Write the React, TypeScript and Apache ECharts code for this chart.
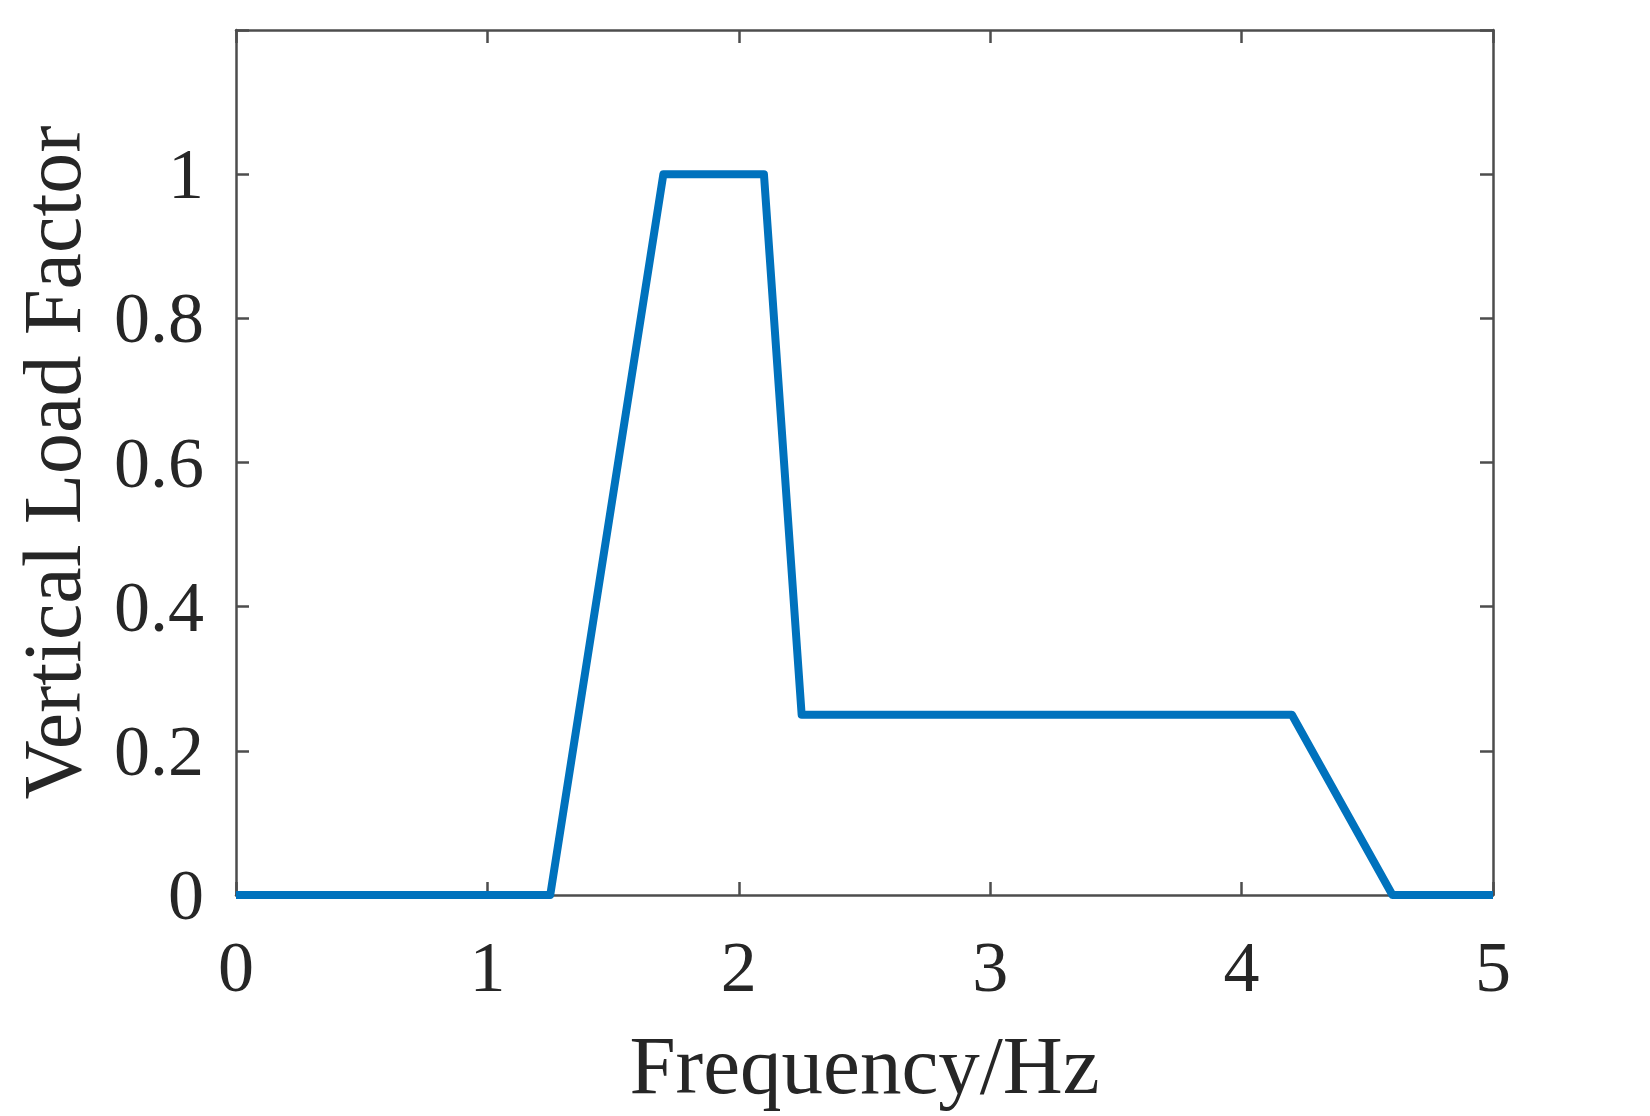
import React, { useEffect, useRef } from "react";
import * as echarts from "echarts";

const frequency: number[] = [0, 1.25, 1.7, 2.1, 2.25, 4.2, 4.6, 5];
const loadFactor: number[] = [0, 0, 1, 1, 0.25, 0.25, 0, 0];
const yTickLabels: string[] = ["0", "0.2", "0.4", "0.6", "0.8", "1"];
const xTickLabels: string[] = ["0", "1", "2", "3", "4", "5"];

const FONT = '"Liberation Serif", "Times New Roman", serif';
const TEXT = "#262626";
const AXIS = "#4d4d4d";

export default function App() {
  const ref = useRef<HTMLDivElement>(null);
  useEffect(() => {
    document.body.style.margin = "0";
    document.body.style.overflow = "hidden";
    const chart = echarts.init(ref.current!, null, { renderer: "svg" });
    const axisLine = { show: true, onZero: false, lineStyle: { color: AXIS, width: 2.5 } };
    const tick = { show: true, inside: true, length: 13, lineStyle: { color: AXIS, width: 2.5 } };
    const yFmt = (v: number) => {
      const i = Math.round(v / 0.2);
      return i < yTickLabels.length ? yTickLabels[i] : "";
    };
    const xFmt = (v: number) => xTickLabels[Math.round(v)] ?? "";
    chart.setOption({
      animation: false,
      backgroundColor: "#ffffff",
      grid: {
        left: 236,
        right: 157,
        top: 30,
        bottom: 221,
        containLabel: false,
        outerBoundsMode: "none",
      },
      xAxis: [
        {
          type: "value",
          min: 0,
          max: 5,
          interval: 1,
          position: "bottom",
          name: "Frequency/Hz",
          nameLocation: "middle",
          nameGap: 128,
          nameTextStyle: { fontFamily: FONT, fontSize: 83, color: TEXT },
          axisLine,
          axisTick: tick,
          splitLine: { show: false },
          axisLabel: { fontFamily: FONT, fontSize: 72, color: TEXT, margin: 36, formatter: xFmt },
        },
        {
          type: "value",
          min: 0,
          max: 5,
          interval: 1,
          position: "top",
          axisLine,
          axisTick: tick,
          splitLine: { show: false },
          axisLabel: { show: false },
        },
      ],
      yAxis: [
        {
          type: "value",
          min: 0,
          max: 1.2,
          interval: 0.2,
          position: "left",
          name: "Vertical Load Factor",
          nameLocation: "middle",
          nameGap: 143,
          nameTextStyle: { fontFamily: FONT, fontSize: 82, color: TEXT },
          axisLine,
          axisTick: tick,
          splitLine: { show: false },
          axisLabel: { fontFamily: FONT, fontSize: 72, color: TEXT, margin: 32, formatter: yFmt },
        },
        {
          type: "value",
          min: 0,
          max: 1.2,
          interval: 0.2,
          position: "right",
          axisLine,
          axisTick: tick,
          splitLine: { show: false },
          axisLabel: { show: false },
        },
      ],
      series: [
        {
          type: "line",
          data: frequency.map((f, i) => [f, loadFactor[i]]),
          showSymbol: false,
          symbol: "none",
          lineStyle: { color: "#0072BD", width: 8, join: "round" },
          clip: false,
        },
      ],
    });
    return () => chart.dispose();
  }, []);
  return <div ref={ref} style={{ width: 1650, height: 1116 }} />;
}
